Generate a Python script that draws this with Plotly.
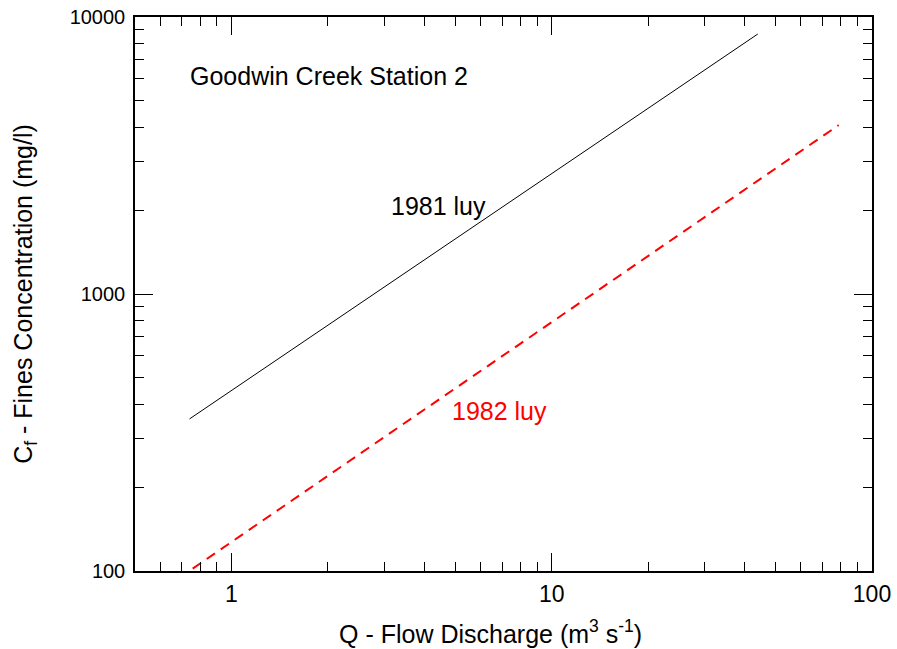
import plotly.graph_objects as go

# Fitted rating lines (fines concentration vs. flow discharge), endpoints of each fit
q_1981 = [0.74, 44.0]
c_1981 = [354, 8680]
q_1982 = [0.757, 78.7]
c_1982 = [102, 4070]

x_major = [1, 10, 100]
x_major_text = ["1", "10", "100"]
x_minor = [0.6, 0.7, 0.8, 0.9, 2, 3, 4, 5, 6, 7, 8, 9, 20, 30, 40, 50, 60, 70, 80, 90]
y_major = [100, 1000, 10000]
y_major_text = ["100", "1000", "10000"]
y_minor = [200, 300, 400, 500, 600, 700, 800, 900, 2000, 3000, 4000, 5000, 6000, 7000, 8000, 9000]

FONT = "Liberation Sans, Arial, sans-serif"

fig = go.Figure()
fig.add_trace(go.Scatter(x=q_1981, y=c_1981, mode="lines",
                         line=dict(color="black", width=1), showlegend=False))
fig.add_trace(go.Scatter(x=q_1982, y=c_1982, mode="lines",
                         line=dict(color="red", width=2, dash="10px,7px"), showlegend=False))

axis_common = dict(
    type="log", showgrid=False, zeroline=False, showline=True,
    linecolor="black", linewidth=1.5, mirror="allticks",
    ticks="inside", ticklen=18, tickwidth=1, tickcolor="black",
)

fig.update_xaxes(
    **axis_common, range=[-0.30103, 2],
    tickmode="array", tickvals=x_major, ticktext=x_major_text,
    tickfont=dict(family=FONT, size=23, color="black"),
    ticklabelstandoff=2,
    minor=dict(tickmode="array", tickvals=x_minor, ticks="inside", ticklen=9,
               tickcolor="black", tickwidth=1, showgrid=False),
)
fig.update_yaxes(
    **axis_common, range=[2, 4],
    tickmode="array", tickvals=y_major, ticktext=y_major_text,
    tickfont=dict(family=FONT, size=20, color="black"),
    ticklabelstandoff=4,
    minor=dict(tickmode="array", tickvals=y_minor, ticks="inside", ticklen=9,
               tickcolor="black", tickwidth=1, showgrid=False),
    title=dict(text="C<sub>f</sub> - Fines Concentration (mg/l)",
               font=dict(family=FONT, size=25, color="black"), standoff=30),
)

# x-axis title
fig.add_annotation(x=0.482, y=-0.110, xref="paper", yref="paper",
                   text="Q - Flow Discharge (m<sup>3</sup> s<sup>-1</sup>)", showarrow=False,
                   xanchor="center", yanchor="middle",
                   font=dict(family=FONT, size=25, color="black"))

fig.add_annotation(x=0.0719, y=0.893, xref="paper", yref="paper",
                   text="Goodwin Creek Station 2", showarrow=False,
                   xanchor="left", yanchor="middle",
                   font=dict(family=FONT, size=25, color="black"))
fig.add_annotation(x=0.344, y=0.659, xref="paper", yref="paper",
                   text="1981 luy", showarrow=False,
                   xanchor="left", yanchor="middle",
                   font=dict(family=FONT, size=25, color="black"))
fig.add_annotation(x=0.428, y=0.288, xref="paper", yref="paper",
                   text="1982 luy", showarrow=False,
                   xanchor="left", yanchor="middle",
                   font=dict(family=FONT, size=25, color="red"))

fig.update_layout(
    width=897, height=649,
    margin=dict(l=135, r=25, t=17, b=78, autoexpand=False),
    paper_bgcolor="white", plot_bgcolor="white",
    font=dict(family=FONT, color="black"),
)

fig.write_html("out.html")
